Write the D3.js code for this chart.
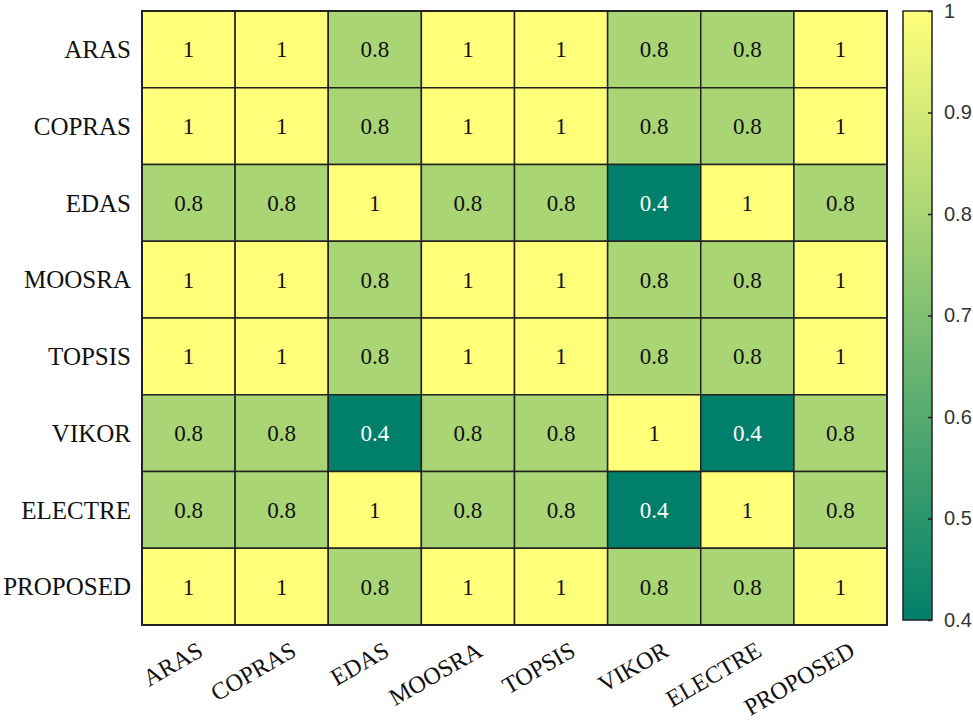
<!DOCTYPE html>
<html lang="en">
<head>
    <meta charset="UTF-8">
    <title>Correlation heatmap</title>
    <script src="https://cdn.jsdelivr.net/npm/d3@7"></script>
    <style>
        body { margin: 0; background: #fff; }
    </style>
</head>
<body>
    <div id="chart"></div>
    <script>
        // Methods (rows and columns share the same order)
        const methods = ['ARAS', 'COPRAS', 'EDAS', 'MOOSRA', 'TOPSIS', 'VIKOR', 'ELECTRE', 'PROPOSED'];

        // Matrix values, one array per row
        const rowARAS     = [1, 1, 0.8, 1, 1, 0.8, 0.8, 1];
        const rowCOPRAS   = [1, 1, 0.8, 1, 1, 0.8, 0.8, 1];
        const rowEDAS     = [0.8, 0.8, 1, 0.8, 0.8, 0.4, 1, 0.8];
        const rowMOOSRA   = [1, 1, 0.8, 1, 1, 0.8, 0.8, 1];
        const rowTOPSIS   = [1, 1, 0.8, 1, 1, 0.8, 0.8, 1];
        const rowVIKOR    = [0.8, 0.8, 0.4, 0.8, 0.8, 1, 0.4, 0.8];
        const rowELECTRE  = [0.8, 0.8, 1, 0.8, 0.8, 0.4, 1, 0.8];
        const rowPROPOSED = [1, 1, 0.8, 1, 1, 0.8, 0.8, 1];
        const matrix = [rowARAS, rowCOPRAS, rowEDAS, rowMOOSRA, rowTOPSIS, rowVIKOR, rowELECTRE, rowPROPOSED];

        const colorTicks = [0.4, 0.5, 0.6, 0.7, 0.8, 0.9, 1];

        const width = 973, height = 724;
        const grid = { left: 142, top: 11, right: 887, bottom: 625 };
        const bar = { left: 903, right: 932, top: 11, bottom: 620 };
        const serif = '"Liberation Serif", "DejaVu Serif", serif';

        const svg = d3.select('#chart').append('svg')
            .attr('width', width)
            .attr('height', height);

        const x = d3.scaleBand().domain(methods).range([grid.left, grid.right]);
        const y = d3.scaleBand().domain(methods).range([grid.top, grid.bottom]);

        // summer-like colormap
        const color = d3.scaleLinear()
            .domain([0.4, 1])
            .range(['#00806a', '#ffff7a'])
            .interpolate(d3.interpolateRgb);

        const cells = [];
        matrix.forEach((row, i) => {
            row.forEach((v, j) => cells.push({ r: methods[i], c: methods[j], v }));
        });

        const cellG = svg.append('g');
        cellG.selectAll('rect')
            .data(cells)
            .enter().append('rect')
            .attr('x', d => x(d.c))
            .attr('y', d => y(d.r))
            .attr('width', x.bandwidth())
            .attr('height', y.bandwidth())
            .attr('fill', d => color(d.v))
            .attr('stroke', '#222')
            .attr('stroke-width', 1.5);

        cellG.selectAll('text')
            .data(cells)
            .enter().append('text')
            .attr('x', d => x(d.c) + x.bandwidth() / 2)
            .attr('y', d => y(d.r) + y.bandwidth() / 2)
            .attr('dy', '0.35em')
            .attr('text-anchor', 'middle')
            .attr('font-family', serif)
            .attr('font-size', '23px')
            .attr('fill', d => d.v < 0.6 ? '#fff' : '#111')
            .text(d => d.v);

        // outer border
        svg.append('rect')
            .attr('x', grid.left).attr('y', grid.top)
            .attr('width', grid.right - grid.left).attr('height', grid.bottom - grid.top)
            .attr('fill', 'none').attr('stroke', '#222').attr('stroke-width', 2);

        // row labels
        svg.append('g').selectAll('text')
            .data(methods)
            .enter().append('text')
            .attr('x', grid.left - 11)
            .attr('y', d => y(d) + y.bandwidth() / 2)
            .attr('dy', '0.35em')
            .attr('text-anchor', 'end')
            .attr('font-family', serif)
            .attr('font-size', '25px')
            .attr('fill', '#111')
            .text(d => d);

        // column labels, rotated
        svg.append('g').selectAll('text')
            .data(methods)
            .enter().append('text')
            .attr('transform', d => `translate(${x(d) + x.bandwidth() / 2 + 16},${grid.bottom + 30}) rotate(-30)`)
            .attr('text-anchor', 'end')
            .attr('font-family', serif)
            .attr('font-size', '24px')
            .attr('fill', '#111')
            .text(d => d);

        // colorbar
        const defs = svg.append('defs');
        const grad = defs.append('linearGradient')
            .attr('id', 'cbar')
            .attr('x1', '0').attr('y1', '1').attr('x2', '0').attr('y2', '0');
        grad.append('stop').attr('offset', '0%').attr('stop-color', color(0.4));
        grad.append('stop').attr('offset', '100%').attr('stop-color', color(1));

        const cy = d3.scaleLinear().domain([0.4, 1]).range([bar.bottom, bar.top]);

        svg.append('rect')
            .attr('x', bar.left).attr('y', bar.top)
            .attr('width', bar.right - bar.left).attr('height', bar.bottom - bar.top)
            .attr('fill', 'url(#cbar)')
            .attr('stroke', '#222').attr('stroke-width', 1.5);

        const axis = d3.axisRight(cy)
            .tickValues(colorTicks)
            .tickSize(-4)
            .tickPadding(12)
            .tickFormat(d3.format('~g'));

        const axG = svg.append('g')
            .attr('transform', `translate(${bar.right},0)`)
            .call(axis);
        axG.select('.domain').remove();
        axG.selectAll('line').attr('stroke', '#222').attr('stroke-width', 1.5);
        axG.selectAll('text')
            .attr('font-family', '"Liberation Sans", Arial, sans-serif')
            .attr('font-size', '20px')
            .attr('fill', '#333');
    </script>
</body>
</html>
